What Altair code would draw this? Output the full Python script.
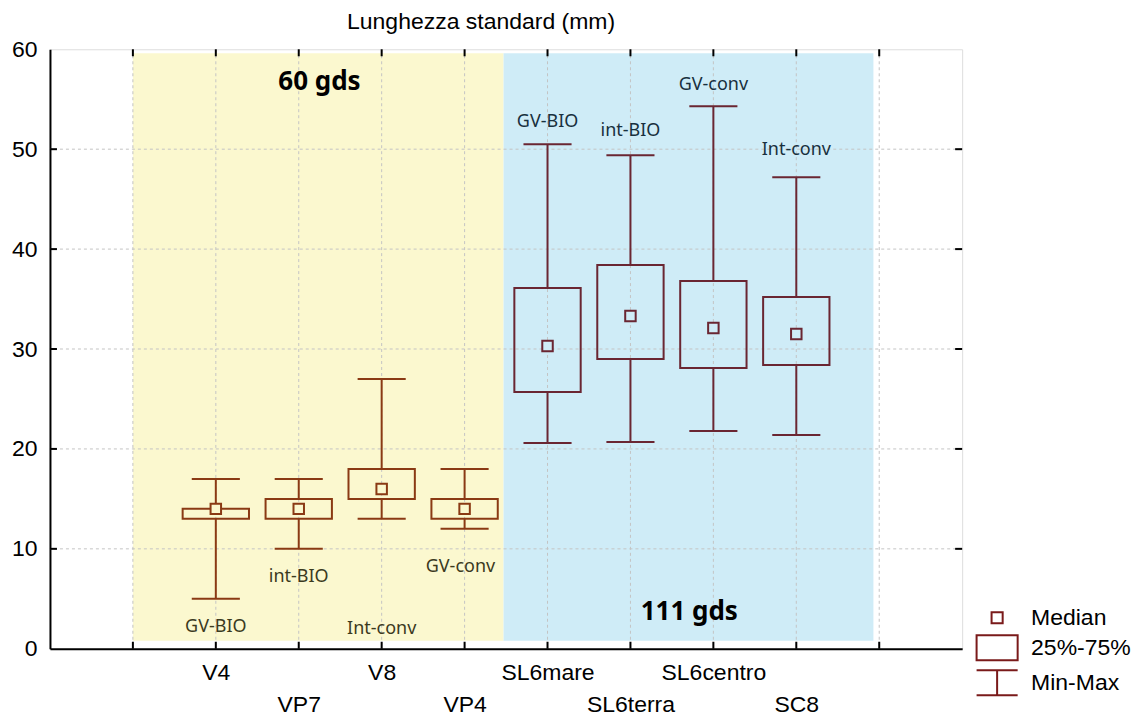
import altair as alt
import pandas as pd

# ---- data ----
cats = ["V4", "VP7", "V8", "VP4", "SL6mare", "SL6terra", "SL6centro", "SC8"]
pos = [2, 3, 4, 5, 6, 7, 8, 9]
mins = [5, 10, 13, 12, 20.6, 20.7, 21.8, 21.4]
q1 = [13, 13, 15, 13, 25.7, 29.0, 28.1, 28.4]
med = [14, 14, 16, 14, 30.3, 33.3, 32.1, 31.5]
q3 = [14, 15, 18, 15, 36.1, 38.4, 36.8, 35.2]
maxs = [17, 17, 27, 18, 50.5, 49.4, 54.3, 47.2]
group = ["60", "60", "60", "60", "111", "111", "111", "111"]

ann_text = ["GV-BIO", "int-BIO", "Int-conv", "GV-conv", "GV-BIO", "int-BIO", "GV-conv", "Int-conv"]
ann_x = [2, 3, 4, 4.95, 6, 7, 8, 9]
ann_y = [2.2, 7.2, 2.0, 8.2, 52.7, 51.8, 56.4, 49.9]
ann_group = group

big_text = ["60 gds", "111 gds"]
big_x = [3.25, 7.71]
big_y = [56.7, 3.7]

reg_group = ["60", "111"]
reg_x = [1, 5.47]
reg_x2 = [5.47, 9.93]
reg_y = [0.8, 0.8]
reg_y2 = [59.6, 59.6]

x_ticks = [1, 2, 3, 4, 5, 6, 7, 8, 9, 10]
y_ticks = [0, 10, 20, 30, 40, 50, 60]
y_grid = [10, 20, 30, 40, 50]

legend_items = ["Median", "25%-75%", "Min-Max"]

# ---- styles ----
W, H = 913, 600
grp_dom = ["60", "111"]
box_col = ["#8a3a14", "#6a2632"]
bg_col = ["#fbf8cf", "#cfecf7"]
txt_col = ["#3b3a1e", "#18303e"]
AX = "Liberation Sans"
TXT = "Noto Sans"
FS = 23

box = pd.DataFrame(dict(cat=cats, pos=pos, mn=mins, q1=q1, med=med, q3=q3, mx=maxs, g=group))
box["xl"] = box["pos"] - 0.4
box["xr"] = box["pos"] + 0.4
box["cl"] = box["pos"] - 0.29
box["cr"] = box["pos"] + 0.29
ann = pd.DataFrame(dict(t=ann_text, x=ann_x, y=ann_y, g=ann_group))
big = pd.DataFrame(dict(t=big_text, x=big_x, y=big_y))
reg = pd.DataFrame(dict(g=reg_group, x=reg_x, x2=reg_x2, y=reg_y, y2=reg_y2))
xt = pd.DataFrame(dict(v=x_ticks))
yt = pd.DataFrame(dict(v=y_grid))
leg = pd.DataFrame(dict(item=legend_items, x=[0, 0, 0], y=[0, 0, 0]))

label_map = dict(zip(pos, cats))
expr = "''"
for p in reversed(pos):
    name = label_map[p]
    lab = f"'{name}'" if (p - 2) % 2 == 0 else f"['', '{name}']"
    expr = f"datum.value == {p} ? {lab} : ({expr})"

xscale = alt.Scale(domain=[0, 11], nice=False, zero=False)
yscale = alt.Scale(domain=[0, 60], nice=False, zero=False)
X = lambda f: alt.X(f, type="quantitative", scale=xscale,
                    axis=alt.Axis(values=x_ticks, labelExpr=expr, title=None, grid=False,
                                  ticks=False, labelFont=AX, labelFontSize=FS, labelColor="black",
                                  labelPadding=13, labelLineHeight=32, domainColor="black",
                                  domainWidth=2, labelFlush=False, labelOverlap=False))
Y = lambda f: alt.Y(f, type="quantitative", scale=yscale,
                    axis=alt.Axis(values=y_ticks, title=None, grid=False, ticks=False,
                                  labelFont=AX, labelFontSize=FS, labelColor="black",
                                  labelPadding=13, domainColor="black", domainWidth=2,
                                  labelFlush=False, labelOverlap=False))
gcol = lambda rng: alt.Color("g:N", scale=alt.Scale(domain=grp_dom, range=rng), legend=None)

regions = alt.Chart(reg).mark_rect().encode(
    x=X("x"), x2="x2", y=Y("y"), y2="y2", fill=alt.Fill("g:N", scale=alt.Scale(domain=grp_dom, range=bg_col), legend=None))

hgrid = alt.Chart(yt).mark_rule(color="#c4c4c4", strokeDash=[3, 3], strokeWidth=1).encode(y=Y("v"))
vgrid = alt.Chart(xt).mark_rule(color="#c4c4c4", strokeDash=[3, 3], strokeWidth=1).encode(x=X("v"))

tick_b = alt.Chart(xt).mark_rule(color="black", strokeWidth=2).encode(x=X("v"), y=alt.value(H), y2=alt.value(H - 7))
tick_t = alt.Chart(xt).mark_rule(color="black", strokeWidth=2).encode(x=X("v"), y=alt.value(0), y2=alt.value(7))
tick_l = alt.Chart(yt).mark_rule(color="black", strokeWidth=2).encode(y=Y("v"), x=alt.value(0), x2=alt.value(7))
tick_r = alt.Chart(yt).mark_rule(color="black", strokeWidth=2).encode(y=Y("v"), x=alt.value(W), x2=alt.value(W - 7))

whisk_lo = alt.Chart(box).mark_rule(strokeWidth=2).encode(x=X("pos"), y=Y("mn"), y2="q1", color=gcol(box_col))
whisk_hi = alt.Chart(box).mark_rule(strokeWidth=2).encode(x=X("pos"), y=Y("q3"), y2="mx", color=gcol(box_col))
cap_lo = alt.Chart(box).mark_rule(strokeWidth=2).encode(x=X("cl"), x2="cr", y=Y("mn"), color=gcol(box_col))
cap_hi = alt.Chart(box).mark_rule(strokeWidth=2).encode(x=X("cl"), x2="cr", y=Y("mx"), color=gcol(box_col))
rects = alt.Chart(box).mark_rect(fillOpacity=0, strokeWidth=2).encode(
    x=X("xl"), x2="xr", y=Y("q1"), y2="q3", stroke=alt.Stroke("g:N", scale=alt.Scale(domain=grp_dom, range=box_col), legend=None))
medians = alt.Chart(box).mark_point(shape="square", size=110, filled=False, strokeWidth=2, opacity=1).encode(
    x=X("pos"), y=Y("med"),
    stroke=alt.Stroke("g:N", scale=alt.Scale(domain=grp_dom, range=box_col), legend=None),
    fill=alt.Fill("g:N", scale=alt.Scale(domain=grp_dom, range=bg_col), legend=None))

ann_l = alt.Chart(ann).mark_text(font=TXT, fontSize=18, baseline="middle", align="center").encode(
    x=X("x"), y=Y("y"), text="t:N", color=gcol(txt_col))
big_l = alt.Chart(big).mark_text(font=TXT, fontSize=26, fontWeight="bold", color="black",
                                 baseline="middle", align="center").encode(x=X("x"), y=Y("y"), text="t:N")

legend_paths = [
    "M-0.37,-0.37H0.37V0.37H-0.37Z",
    "M-1.37,-0.83H1.37V0.83H-1.37Z",
    "M-1.37,-0.83H1.37M0,-0.83V0.83M-1.37,0.83H1.37",
]
leg_l = alt.Chart(leg).mark_point(filled=False, opacity=0).encode(
    x=X("x"), y=Y("y"),
    shape=alt.Shape("item:N", scale=alt.Scale(domain=legend_items, range=legend_paths),
                    legend=alt.Legend(title=None, orient="none", legendX=932, legendY=553,
                                      symbolSize=900, symbolStrokeWidth=2, symbolStrokeColor="#7a1a1a",
                                      symbolFillColor="white", symbolOpacity=1, labelFont=AX,
                                      labelFontSize=FS, labelColor="black", labelOffset=18,
                                      rowPadding=1, padding=0)))

chart = alt.layer(
    regions, hgrid, vgrid, tick_b, tick_t, tick_l, tick_r,
    whisk_lo, whisk_hi, cap_lo, cap_hi, rects, medians, ann_l, big_l, leg_l
).resolve_scale(color="independent", fill="independent", stroke="independent").properties(
    width=W, height=H,
    title=alt.TitleParams("Lunghezza standard (mm)", font=AX, fontSize=FS, fontWeight="normal",
                          color="black", anchor="middle", dx=-25, offset=4),
    autosize=alt.AutoSizeParams(type="none"),
    padding={"left": 42, "top": 41, "right": 170, "bottom": 70},
).configure_view(stroke="black", strokeWidth=2).configure(background="white")

chart.save("out.html", embed_options={"renderer": "svg", "actions": False})
